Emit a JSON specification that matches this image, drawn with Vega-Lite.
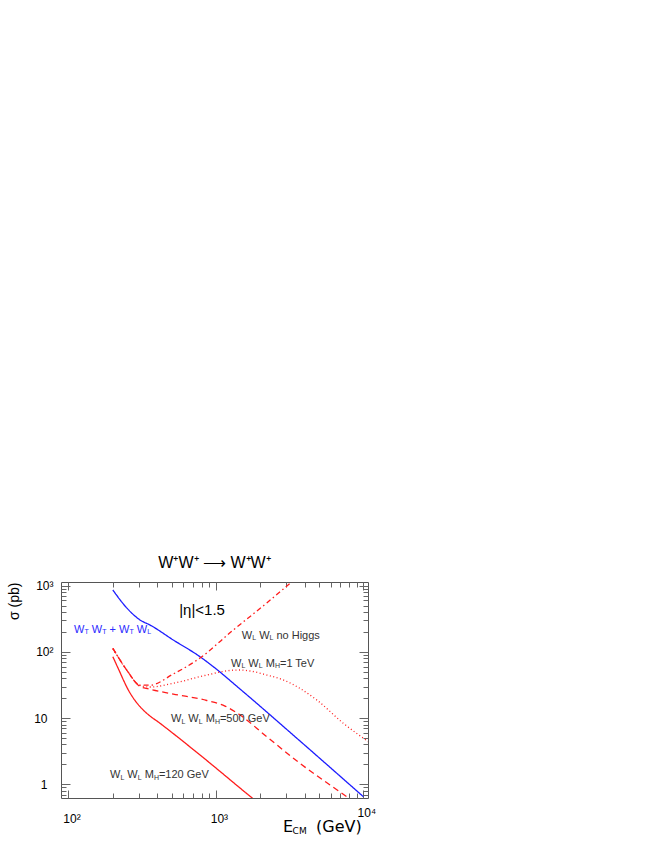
{
  "$schema": "https://vega.github.io/schema/vega-lite/v6.json",
  "width": 307,
  "height": 216,
  "autosize": "none",
  "padding": {"left": 61, "top": 582, "right": 296, "bottom": 62},
  "background": "white",
  "title": {"text": "W⁺W⁺ ⟶ W⁺W⁺", "font": "Liberation Sans", "fontSize": 16, "fontWeight": "normal", "color": "#000", "offset": -4, "baseline": "alphabetic", "anchor": "middle", "frame": "group"},
  "config": {
    "font": "Liberation Sans",
    "view": {"stroke": "#555", "strokeWidth": 1},
    "axis": {"domain": false, "grid": false, "tickColor": "#666", "tickWidth": 1, "labelColor": "#000", "labelFont": "Liberation Sans", "labelFontSize": 12, "labelOverlap": false, "labelFlush": false}
  },
  "resolve": {"axis": {"x": "independent", "y": "independent"}},
  "datasets": {
    "lines": [
      {"s": "WT", "x": 200, "y": 863}, {"s": "WT", "x": 248, "y": 465}, {"s": "WT", "x": 305.8, "y": 304}, {"s": "WT", "x": 357.5, "y": 255}, {"s": "WT", "x": 514, "y": 151.5}, {"s": "WT", "x": 780, "y": 84.7}, {"s": "WT", "x": 961, "y": 59.8}, {"s": "WT", "x": 1458, "y": 27.5}, {"s": "WT", "x": 3722, "y": 4.5}, {"s": "WT", "x": 10007, "y": 0.649},
      {"s": "MH120", "x": 200, "y": 84.7}, {"s": "MH120", "x": 216.8, "y": 57.2}, {"s": "MH120", "x": 254.7, "y": 26.6}, {"s": "MH120", "x": 305.8, "y": 14.87}, {"s": "MH120", "x": 339.5, "y": 11.82}, {"s": "MH120", "x": 417.8, "y": 8.35}, {"s": "MH120", "x": 780.4, "y": 2.77}, {"s": "MH120", "x": 1751, "y": 0.627}, {"s": "MH120", "x": 1995, "y": 0.495},
      {"s": "MH500", "x": 200, "y": 113.5}, {"s": "MH500", "x": 248.4, "y": 53.3}, {"s": "MH500", "x": 305.8, "y": 30}, {"s": "MH500", "x": 350, "y": 27.5}, {"s": "MH500", "x": 514.4, "y": 23.1}, {"s": "MH500", "x": 866.9, "y": 18.45}, {"s": "MH500", "x": 1153, "y": 15.2}, {"s": "MH500", "x": 1458, "y": 11.14}, {"s": "MH500", "x": 2213, "y": 5.24}, {"s": "MH500", "x": 3722, "y": 2.07}, {"s": "MH500", "x": 7720, "y": 0.649}, {"s": "MH500", "x": 8913, "y": 0.516},
      {"s": "MH1TeV", "x": 200, "y": 112}, {"s": "MH1TeV", "x": 248.4, "y": 53.3}, {"s": "MH1TeV", "x": 305.8, "y": 31}, {"s": "MH1TeV", "x": 357.5, "y": 29.5}, {"s": "MH1TeV", "x": 514.4, "y": 33.6}, {"s": "MH1TeV", "x": 866.9, "y": 44.8}, {"s": "MH1TeV", "x": 1313, "y": 53}, {"s": "MH1TeV", "x": 1458, "y": 53.3}, {"s": "MH1TeV", "x": 1704, "y": 51.5}, {"s": "MH1TeV", "x": 2213, "y": 44.8}, {"s": "MH1TeV", "x": 2868, "y": 37.7}, {"s": "MH1TeV", "x": 4832, "y": 18.8}, {"s": "MH1TeV", "x": 7321, "y": 8.35}, {"s": "MH1TeV", "x": 10820, "y": 4.4},
      {"s": "noHiggs", "x": 200, "y": 113.5}, {"s": "noHiggs", "x": 248.4, "y": 53.3}, {"s": "noHiggs", "x": 305.8, "y": 31.5}, {"s": "noHiggs", "x": 357.5, "y": 31.5}, {"s": "noHiggs", "x": 514.4, "y": 46.4}, {"s": "noHiggs", "x": 780.4, "y": 81}, {"s": "noHiggs", "x": 1313, "y": 214.6}, {"s": "noHiggs", "x": 2213, "y": 549}, {"s": "noHiggs", "x": 3184, "y": 1090}, {"s": "noHiggs", "x": 3443, "y": 1265}
    ],
    "labels": [
      {"s": "WT", "x": 109.0, "y": 193.3, "t": "W"}, {"s": "WT", "x": 144.0, "y": 193.3, "t": "W"}, {"s": "WT", "x": 189.8, "y": 193.3, "t": "+"}, {"s": "WT", "x": 220.2, "y": 193.3, "t": "W"}, {"s": "WT", "x": 290.8, "y": 193.3, "t": "W"},
      {"s": "noHiggs", "x": 1497, "y": 156.9, "t": "W"}, {"s": "noHiggs", "x": 1965, "y": 156.9, "t": "W"}, {"s": "noHiggs", "x": 2575, "y": 156.9, "t": "no Higgs"},
      {"s": "MH1TeV", "x": 1266.6, "y": 59.8, "t": "W"}, {"s": "MH1TeV", "x": 1660, "y": 59.8, "t": "W"}, {"s": "MH1TeV", "x": 2178, "y": 59.8, "t": "M"}, {"s": "MH1TeV", "x": 2720, "y": 59.8, "t": "=1 TeV"},
      {"s": "MH500", "x": 496.3, "y": 8.582, "t": "W"}, {"s": "MH500", "x": 650.1, "y": 8.582, "t": "W"}, {"s": "MH500", "x": 853.4, "y": 8.582, "t": "M"}, {"s": "MH500", "x": 1065.1, "y": 8.582, "t": "=500 GeV"},
      {"s": "MH120", "x": 191.3, "y": 1.231, "t": "W"}, {"s": "MH120", "x": 250.7, "y": 1.231, "t": "W"}, {"s": "MH120", "x": 329.0, "y": 1.231, "t": "M"}, {"s": "MH120", "x": 410.8, "y": 1.231, "t": "=120 GeV"}
    ],
    "subs": [
      {"s": "WT", "x": 128.3, "y": 193.3, "t": "T"}, {"s": "WT", "x": 169.4, "y": 193.3, "t": "T"}, {"s": "WT", "x": 259.0, "y": 193.3, "t": "T"}, {"s": "WT", "x": 342.1, "y": 193.3, "t": "L"},
      {"s": "noHiggs", "x": 1762, "y": 156.9, "t": "L"}, {"s": "noHiggs", "x": 2308, "y": 156.9, "t": "L"},
      {"s": "MH1TeV", "x": 1490, "y": 59.8, "t": "L"}, {"s": "MH1TeV", "x": 1953, "y": 59.8, "t": "L"}, {"s": "MH1TeV", "x": 2515, "y": 59.8, "t": "H"},
      {"s": "MH500", "x": 583.6, "y": 8.582, "t": "L"}, {"s": "MH500", "x": 764.8, "y": 8.582, "t": "L"}, {"s": "MH500", "x": 985.1, "y": 8.582, "t": "H"},
      {"s": "MH120", "x": 225.1, "y": 1.231, "t": "L"}, {"s": "MH120", "x": 295.0, "y": 1.231, "t": "L"}, {"s": "MH120", "x": 379.9, "y": 1.231, "t": "H"}
    ],
    "eta": [{"x": 805.4, "y": 357.8, "t": "|η|<1.5"}],
    "xtitle": [{"x": 2850, "y": 0.19, "t": "E"}, {"x": 4779, "y": 0.19, "t": "(GeV)"}],
    "xsub": [{"x": 3315, "y": 0.19, "t": "CM"}]
  },
  "layer": [
    {
      "data": {"name": "lines"},
      "mark": {"type": "line", "strokeWidth": 1.3, "clip": true, "interpolate": "monotone"},
      "encoding": {
        "x": {"field": "x", "type": "quantitative", "scale": {"type": "log", "domain": [89, 10760]},
          "axis": {"orient": "bottom", "values": [100, 1000, 10000], "tickSize": -8, "labelExpr": "datum.value == 100 ? '10²' : datum.value == 1000 ? '10³' : '10⁴'", "labelBaseline": "alphabetic", "labelPadding": {"condition": {"test": "datum.value > 5000", "value": 26}, "value": 32}, "labelOffset": 3, "title": null}},
        "y": {"field": "y", "type": "quantitative", "scale": {"type": "log", "domain": [0.62, 1140]},
          "axis": {"orient": "left", "values": [1, 10, 100, 1000], "tickSize": -9, "labelExpr": "datum.value == 1000 ? '10³' : datum.value == 100 ? '10²' : datum.value == 10 ? '10' : '1'", "labelBaseline": "middle", "labelAlign": "right", "labelPadding": {"condition": {"test": "datum.value >= 100", "value": 17}, "value": 23},
            "title": "σ (pb)", "titleFont": "Liberation Sans", "titleFontSize": 14, "titleFontWeight": "normal", "titleColor": "#000", "titleAngle": 270, "titleX": -47, "titleY": 0, "titleAlign": "right", "titleBaseline": "middle"}},
        "color": {"field": "s", "type": "nominal", "scale": {"domain": ["WT", "MH120", "MH500", "MH1TeV", "noHiggs"], "range": ["#1c1cff", "#ff1c1c", "#ff1c1c", "#ff1c1c", "#ff1c1c"]}, "legend": null},
        "strokeDash": {"field": "s", "type": "nominal", "scale": {"domain": ["WT", "MH120", "MH500", "MH1TeV", "noHiggs"], "range": [[1, 0], [1, 0], [6, 4], [1, 2.5], [5, 3, 1.5, 3]]}, "legend": null}
      }
    },
    {
      "data": {"name": "labels"},
      "mark": {"type": "text", "align": "left", "baseline": "alphabetic", "font": "Liberation Sans", "fontSize": 11},
      "encoding": {
        "x": {"field": "x", "type": "quantitative", "scale": {"type": "log", "domain": [89, 10760]},
          "axis": {"orient": "top", "values": [100, 1000, 10000], "tickSize": -8, "labels": false, "title": null}},
        "y": {"field": "y", "type": "quantitative", "scale": {"type": "log", "domain": [0.62, 1140]},
          "axis": {"orient": "right", "values": [1, 10, 100, 1000], "tickSize": -9, "labels": false, "title": null}},
        "text": {"field": "t"},
        "color": {"condition": {"test": "datum.s == 'WT'", "value": "#2a2aff"}, "value": "#333"}
      }
    },
    {
      "data": {"name": "subs"},
      "mark": {"type": "text", "align": "left", "baseline": "alphabetic", "font": "Liberation Sans", "fontSize": 7, "dy": 1.5},
      "encoding": {
        "x": {"field": "x", "type": "quantitative", "scale": {"type": "log", "domain": [89, 10760]},
          "axis": {"orient": "bottom", "values": [200, 300, 400, 500, 600, 700, 800, 900, 2000, 3000, 4000, 5000, 6000, 7000, 8000, 9000], "tickSize": -5, "labels": false, "title": null}},
        "y": {"field": "y", "type": "quantitative", "scale": {"type": "log", "domain": [0.62, 1140]},
          "axis": {"orient": "left", "values": [0.7, 0.8, 0.9, 2, 3, 4, 5, 6, 7, 8, 9, 20, 30, 40, 50, 60, 70, 80, 90, 200, 300, 400, 500, 600, 700, 800, 900], "tickSize": -5, "labels": false, "title": null}},
        "text": {"field": "t"},
        "color": {"condition": {"test": "datum.s == 'WT'", "value": "#2a2aff"}, "value": "#333"}
      }
    },
    {
      "data": {"name": "eta"},
      "mark": {"type": "text", "align": "center", "baseline": "alphabetic", "font": "Liberation Sans", "fontSize": 15, "color": "#000"},
      "encoding": {
        "x": {"field": "x", "type": "quantitative", "scale": {"type": "log", "domain": [89, 10760]},
          "axis": {"orient": "top", "values": [200, 300, 400, 500, 600, 700, 800, 900, 2000, 3000, 4000, 5000, 6000, 7000, 8000, 9000], "tickSize": -5, "labels": false, "title": null}},
        "y": {"field": "y", "type": "quantitative", "scale": {"type": "log", "domain": [0.62, 1140]},
          "axis": {"orient": "right", "values": [0.7, 0.8, 0.9, 2, 3, 4, 5, 6, 7, 8, 9, 20, 30, 40, 50, 60, 70, 80, 90, 200, 300, 400, 500, 600, 700, 800, 900], "tickSize": -5, "labels": false, "title": null}},
        "text": {"field": "t"}
      }
    },
    {
      "data": {"name": "xtitle"},
      "mark": {"type": "text", "align": "left", "baseline": "alphabetic", "font": "DejaVu Sans", "fontSize": 16, "color": "#000"},
      "encoding": {
        "x": {"field": "x", "type": "quantitative", "scale": {"type": "log", "domain": [89, 10760]}, "axis": null},
        "y": {"field": "y", "type": "quantitative", "scale": {"type": "log", "domain": [0.62, 1140]}, "axis": null},
        "text": {"field": "t"}
      }
    },
    {
      "data": {"name": "xsub"},
      "mark": {"type": "text", "align": "left", "baseline": "alphabetic", "font": "DejaVu Sans", "fontSize": 9, "dy": 2, "color": "#000"},
      "encoding": {
        "x": {"field": "x", "type": "quantitative", "scale": {"type": "log", "domain": [89, 10760]}, "axis": null},
        "y": {"field": "y", "type": "quantitative", "scale": {"type": "log", "domain": [0.62, 1140]}, "axis": null},
        "text": {"field": "t"}
      }
    }
  ]
}
